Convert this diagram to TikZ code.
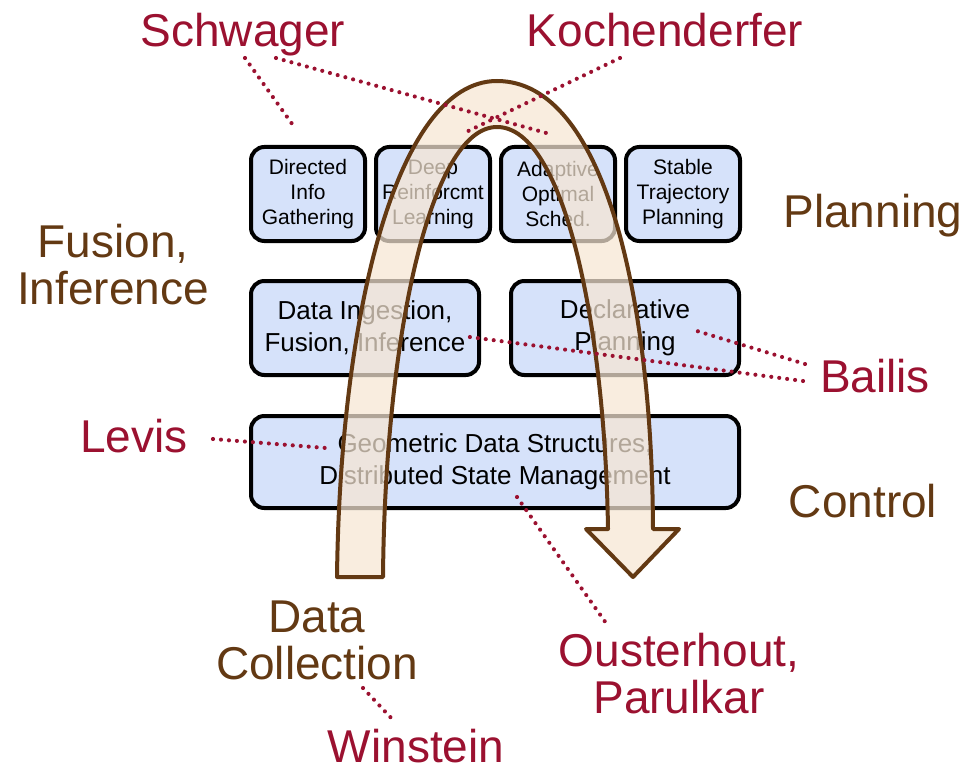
\documentclass[tikz,border=0pt]{standalone}
\usepackage{fontspec}
\setmainfont{Liberation Sans}
\usetikzlibrary{positioning}
\definecolor{boxblue}{RGB}{214,226,250}
\definecolor{archfill}{RGB}{246,230,211}
\definecolor{archline}{RGB}{99,57,19}
\definecolor{areabrown}{RGB}{99,57,19}
\definecolor{namered}{RGB}{155,17,48}
\tikzset{
  box/.style={draw, line width=3pt, rounded corners=10pt, fill=boxblue, align=center, inner sep=0pt},
  small/.style={font=\fontsize{15.75}{18.75}\selectfont, minimum width=85.5pt, minimum height=70.5pt},
  large/.style={font=\fontsize{19.5}{24}\selectfont, minimum height=70.5pt},
  area/.style={text=areabrown, font=\fontsize{34.5}{35.25}\selectfont, align=center, inner sep=0pt},
  person/.style={text=namered, font=\fontsize{34.5}{35.25}\selectfont, align=center, inner sep=0pt},
  dots/.style={namered, line width=3.1pt, line cap=round, dash pattern=on 0pt off 6pt},
}

\begin{document}
\begin{tikzpicture}[x=0.75pt,y=-0.75pt]
\useasboundingbox (0,0) rectangle (967,770);

\node[box,small](info) at (308,194) {Directed\\Info\\Gathering};
\node[box,small,right=5.25pt of info](deep){Deep\\Reinforcmt\\Learning};
\node[box,small,right=5.25pt of deep](sched){Adaptive\\Optimal\\Sched.};
\node[box,small,right=5.25pt of sched](traj){Stable\\Trajectory\\Planning};
\node[box,large,minimum width=171pt](ingest) at (365,328) {Data Ingestion,\\Fusion, Inference};
\node[box,large,minimum width=171pt,right=21pt of ingest](decl){Declarative\\Planning};
\node[box,large,minimum width=366pt,minimum height=69pt](geom) at (495,462) {Geometric Data Structures,\\Distributed State Management};

\draw[archline, line width=3pt, fill=archfill, fill opacity=0.72, line join=round]
  (337,577) .. controls (340,320) and (395,81) .. (497,81)
  .. controls (605,81) and (652,300) .. (653,529)
  -- (679,529) -- (633,577) -- (586,529) -- (608,529)
  .. controls (605,330) and (565,127) .. (497,127)
  .. controls (430,127) and (385,340) .. (383,577) -- cycle;

\node[area,anchor=base](plan) at (873,228) {Planning};
\node[area](fusion) at (113,265) {Fusion,\\Inference};
\node[area,anchor=base](control) at (863,517) {Control};
\node[area](collect) at (317,640) {Data\\Collection};

\node[person,anchor=base](schwager) at (243,47) {Schwager};
\node[person,anchor=base](kochen) at (665,47) {Kochenderfer};
\node[person,anchor=base](bailis) at (875,392) {Bailis};
\node[person,anchor=base](levis) at (134,452) {Levis};
\node[person](ouster) at (679,674) {Ousterhout,\\Parulkar};
\node[person,anchor=base](winstein) at (416,762) {Winstein};

\coordinate (schwager-a) at (245,58);
\coordinate (schwager-b) at (276,58);
\coordinate (info-pt) at (295,128);
\coordinate (sched-pt) at (550,134);
\coordinate (kochen-a) at (620,58);
\coordinate (deep-pt) at (462,134);
\coordinate (bailis-a) at (805,364);
\coordinate (bailis-b) at (803,381);
\coordinate (decl-pt) at (697,331);
\coordinate (ingest-pt) at (462,336);
\coordinate (levis-a) at (213,439);
\coordinate (geom-pt) at (326,448);
\coordinate (geom-low) at (517,497);
\coordinate (ouster-a) at (606,623);
\coordinate (collect-a) at (363,688);
\coordinate (winstein-a) at (394,721);

\draw[dots] (schwager-a) -- (info-pt);
\draw[dots] (schwager-b) -- (sched-pt);
\draw[dots] (kochen-a) -- (deep-pt);
\draw[dots] (bailis-a) -- (decl-pt);
\draw[dots] (bailis-b) -- (ingest-pt);
\draw[dots] (levis-a) -- (geom-pt);
\draw[dots] (geom-low) -- (ouster-a);
\draw[dots] (collect-a) -- (winstein-a);
\end{tikzpicture}
\end{document}
